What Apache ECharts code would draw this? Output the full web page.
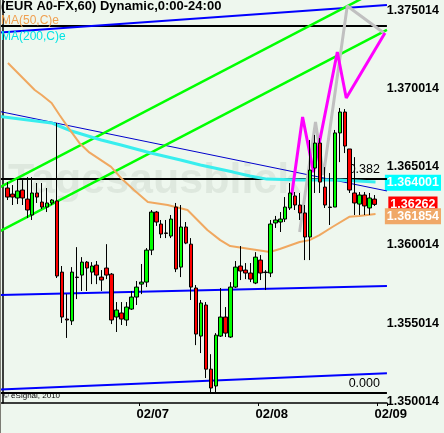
<!DOCTYPE html>
<html><head><meta charset="utf-8">
<script src="https://cdn.jsdelivr.net/npm/echarts@6/dist/echarts.min.js"></script>
<style>html,body{margin:0;padding:0;background:#eef7ee}#c{width:444px;height:433px}</style>
</head><body><div id="c"></div>
<script>
// ---- tick labels ----
const dayLabels = ['02/07', '02/08', '02/09'];
const dayLabelSlots = [27, 51, 75];
const dayTickSlots = [28, 52, 76];
const priceTicks = [1.350014, 1.355014, 1.360014, 1.365014, 1.370014, 1.375014];
const slotCount = 78;
const firstCandleSlot = 1;

// ---- hourly candles (EUR A0-FX, 60) ----
const opens = [1.36367,1.36328,1.36303,1.36354,1.36296,1.36194,1.36335,1.36277,1.36245,1.36271,
1.36284,1.35828,1.35527,1.35515,1.35796,1.35809,1.35892,1.35828,1.35873,1.35796,
1.35854,1.35815,1.35540,1.35566,1.35521,1.35591,1.35668,1.35751,1.35764,1.35969,
1.36213,1.36136,1.36079,1.36059,1.36245,1.35860,1.36117,1.36007,1.35726,1.35418,
1.35617,1.35206,1.35098,1.35418,1.35540,1.35412,1.35732,1.35867,1.35841,1.35822,
1.35758,1.35905,1.35828,1.35822,1.36143,1.36149,1.36168,1.36239,1.36316,1.36258,
1.36207,1.36053,1.36495,1.36655,1.36373,1.36245,1.36245,1.36720,1.36854,1.36617,
1.36335,1.36264,1.36322,1.36239,1.36296];
const closes = [1.36309,1.36309,1.36348,1.36303,1.36226,1.36335,1.36309,1.36245,1.36271,1.36290,
1.35803,1.35540,1.35521,1.35828,1.35793,1.35892,1.35854,1.35867,1.35809,1.35777,
1.35809,1.35521,1.35585,1.35527,1.35604,1.35668,1.35732,1.35764,1.35969,1.36213,
1.36149,1.36072,1.36076,1.36168,1.35848,1.36117,1.36014,1.35732,1.35431,1.35630,
1.35206,1.35085,1.35424,1.35540,1.35437,1.35732,1.35860,1.35835,1.35822,1.35783,
1.35924,1.35822,1.35825,1.36136,1.36162,1.36168,1.36245,1.36335,1.36258,1.36207,
1.36053,1.36482,1.36655,1.36405,1.36258,1.36242,1.36720,1.36854,1.36636,1.36354,
1.36271,1.36322,1.36252,1.36303,1.36262];
const lows = [1.36290,1.36258,1.36264,1.36258,1.36175,1.36162,1.36271,1.36232,1.36213,1.36258,
1.35790,1.35502,1.35406,1.35489,1.35655,1.35707,1.35707,1.35751,1.35751,1.35707,
1.35783,1.35495,1.35444,1.35489,1.35483,1.35585,1.35617,1.35687,1.35732,1.35937,
1.36124,1.36046,1.36046,1.36046,1.35828,1.35796,1.36007,1.35649,1.35360,1.35309,
1.35149,1.35053,1.35053,1.35412,1.35412,1.35406,1.35726,1.35777,1.35783,1.35764,
1.35751,1.35777,1.35713,1.35796,1.36111,1.36085,1.36149,1.36226,1.36226,1.36162,
1.35905,1.35905,1.36335,1.36335,1.36239,1.36130,1.36245,1.36533,1.36591,1.36335,
1.36194,1.36194,1.36194,1.36194,1.36252];
const highs = [1.36405,1.36386,1.36424,1.36418,1.36437,1.36437,1.36399,1.36399,1.36367,1.36296,
1.36784,1.35867,1.35687,1.35860,1.35988,1.35924,1.35899,1.35892,1.35899,1.35841,
1.36007,1.35822,1.35636,1.35636,1.35636,1.35707,1.35771,1.35880,1.35982,1.36226,
1.36220,1.36162,1.36162,1.36194,1.36271,1.36258,1.36149,1.36046,1.35745,1.35649,
1.35636,1.35302,1.35437,1.35726,1.35604,1.35764,1.35899,1.35995,1.35886,1.35886,
1.35956,1.35937,1.35841,1.36162,1.36188,1.36213,1.36309,1.36399,1.36341,1.36335,
1.36258,1.36675,1.36707,1.36687,1.36501,1.36463,1.36739,1.36880,1.36873,1.36617,
1.36565,1.36341,1.36341,1.36335,1.36322];

// ---- moving averages, [slot, value] ----
const ma50 = [[1.1,1.37168],[6.5,1.36995],[7.9,1.36963],[9.9,1.36912],[11.5,1.36835],[13.3,1.36752],
[15.5,1.36656],[17.5,1.36595],[21.9,1.36502],[23.9,1.36431],[26.5,1.36354],[29.3,1.36277],
[33.3,1.36258],[37.3,1.36226],[41.3,1.36098],[43.9,1.36033],[45.9,1.35995],[49.9,1.35976],
[53.9,1.35957],[55.9,1.35976],[59.9,1.36021],[61.9,1.36033],[63.9,1.36065],[66.5,1.36117],
[69.9,1.36182],[71.9,1.36188],[75.2,1.36200]];
const ma200 = [[-0.5,1.36825],[9.9,1.36784],[11.9,1.36758],[13.9,1.36732],[15.9,1.36713],[17.9,1.36694],
[19.9,1.36675],[23.9,1.36643],[29.9,1.36591],[35.9,1.36546],[39.9,1.36514],[46.5,1.36469],
[49.9,1.36444],[53.3,1.36424],[59.9,1.36418],[67.9,1.36418],[75.2,1.36405]];

// ---- drawn studies ----
const blueLines = [
  [[-0.5,1.37363],[77.5,1.37540]],
  [[-0.5,1.35681],[77.5,1.35739]],
  [[-0.5,1.35075],[77.5,1.35179]]
];
const regressionLine = [[-0.5,1.36857],[77.5,1.36348]];
const greenLines = [
  [[-0.5,1.36373],[77.5,1.37665]],
  [[-0.5,1.36091],[77.5,1.37380]]
];
const magentaZigzag = [[58.3,1.36322],[60.5,1.36822],[62.7,1.36469],[67.5,1.37239],[69.3,1.36944],[77.1,1.37360]];
const grayZigzag = [[59.9,1.36085],[63.1,1.36790],[64.7,1.36450],[69.5,1.37534],[76.9,1.37360]];
const levelValues = [1.37405, 1.36425, 1.35053];
const levelNames = ['', '0.382', '0.000'];
const lastTags = [1.364001, 1.36262, 1.361854];
const tagColors = ['#00ffff', '#ff0000', '#f0a868'];

const yMin = 1.34989, yMax = 1.37572;

const categories = [];
for (let i = 0; i < slotCount; i++) categories.push('s' + i);
const candleData = categories.map(() => '-');
opens.forEach((o, k) => { candleData[firstCandleSlot + k] = [o, closes[k], lows[k], highs[k]]; });

const lineSeries = (data, color, width, z) => ({
  type: 'line', xAxisIndex: 1, yAxisIndex: 0, data, symbol: 'none', clip: true, z,
  lineStyle: { color, width }, silent: true, animation: false
});

const series = [];
levelValues.forEach((v, i) => {
  const s = lineSeries([[-0.5, v], [77.5, v]], '#000', 2, 1);
  if (levelNames[i]) {
    s.endLabel = { show: true, formatter: levelNames[i], align: 'right', verticalAlign: 'bottom', distance: 0, offset: [-7, -3], color: '#000', fontSize: 12.5, fontFamily: 'Liberation Sans' };
  }
  series.push(s);
});
blueLines.forEach(l => series.push(lineSeries(l, '#0000ff', 2, 2)));
series.push(lineSeries(regressionLine, '#0000cc', 1, 2));
greenLines.forEach(l => series.push(lineSeries(l, '#00ff00', 2.5, 2)));
series.push(lineSeries(ma200, '#38eeee', 3, 2));
series.push(lineSeries(ma50, '#f0a860', 2, 2));
series.push(lineSeries(grayZigzag, '#c0c0c0', 3, 2));
series.push(lineSeries(magentaZigzag, '#ff00ff', 3, 3));
series.push({
  type: 'candlestick', xAxisIndex: 0, yAxisIndex: 0, data: candleData, barWidth: 4, z: 5,
  itemStyle: { color: '#00ff00', color0: '#ff0000', borderColor: '#000', borderColor0: '#000', borderColorDoji: '#000', borderWidth: 1 },
  animation: false
});

const tagAxes = lastTags.map((t, i) => ({
  type: 'value', position: 'right', min: yMin, max: yMax, scale: true,
  axisLine: { show: false }, axisTick: { show: false }, splitLine: { show: false },
  axisLabel: {
    customValues: [t], align: 'center', margin: 26, hideOverlap: false,
    formatter: () => String(t),
    backgroundColor: tagColors[i], color: '#fff', fontWeight: 'bold', fontSize: 12.5,
    padding: [2, 2, 1, 2], fontFamily: 'Liberation Sans'
  }
}));

const chart = echarts.init(document.getElementById('c'));
chart.setOption({
  backgroundColor: '#eef7ee',
  animation: false,
  textStyle: { fontFamily: 'Liberation Sans' },
  title: [
    { text: '(EUR A0-FX,60) Dynamic,0:00-24:00', left: 1, top: 0, padding: 0, textStyle: { fontSize: 13, fontWeight: 'bold', color: '#000', fontFamily: 'Liberation Sans' } },
    { text: 'MA(50,C)e', left: 1, top: 15, padding: 0, textStyle: { fontSize: 12, fontWeight: 'normal', color: '#f0a050', fontFamily: 'Liberation Sans' } },
    { text: 'MA(200,C)e', left: 1, top: 31, padding: 0, textStyle: { fontSize: 12, fontWeight: 'normal', color: '#00e4e4', fontFamily: 'Liberation Sans' } },
    { text: '© eSignal, 2010', left: 3, top: 392, padding: 0, textStyle: { fontSize: 8, fontWeight: 'normal', color: '#000', fontFamily: 'Liberation Sans' } }
  ],
  graphic: [
    { type: 'text', left: 8, top: 160, z: 0, silent: true, style: { text: 'Tagesausblick', font: 'bold 43px Liberation Sans', fill: 'rgba(100,120,100,0.11)' } },
    { type: 'rect', shape: { x: 0, y: 0, width: 1, height: 433 }, style: { fill: '#7c7c74' }, z: 10 }
  ],
  grid: { left: -2, right: 56, top: 0, bottom: 30, containLabel: false },
  xAxis: [
    {
      type: 'category', data: categories, boundaryGap: true, gridIndex: 0,
      axisLine: { show: true, lineStyle: { color: '#000', width: 1.5 } },
      axisTick: { show: true, length: 3, interval: (i) => dayTickSlots.includes(i), lineStyle: { color: '#000' } },
      axisLabel: {
        show: true, interval: (i) => dayLabelSlots.includes(i), align: 'left', margin: 5,
        formatter: (v, i) => dayLabels[dayLabelSlots.indexOf(i)] || '',
        fontSize: 13, fontWeight: 'bold', color: '#000', fontFamily: 'Liberation Sans'
      },
      splitLine: { show: false }
    },
    { type: 'value', min: -0.5, max: 77.5, show: false, gridIndex: 0 }
  ],
  yAxis: [
    {
      type: 'value', position: 'right', min: yMin, max: yMax, scale: true,
      axisLine: { show: true, lineStyle: { color: '#000', width: 1.5 } },
      axisTick: { show: false }, splitLine: { show: false },
      axisLabel: {
        customValues: priceTicks, formatter: (v) => v.toFixed(6), align: 'center', margin: 26,
        hideOverlap: false, fontSize: 12.5, fontWeight: 'bold', color: '#000', fontFamily: 'Liberation Sans'
      }
    }
  ].concat(tagAxes),
  series
});
</script>
</body></html>
